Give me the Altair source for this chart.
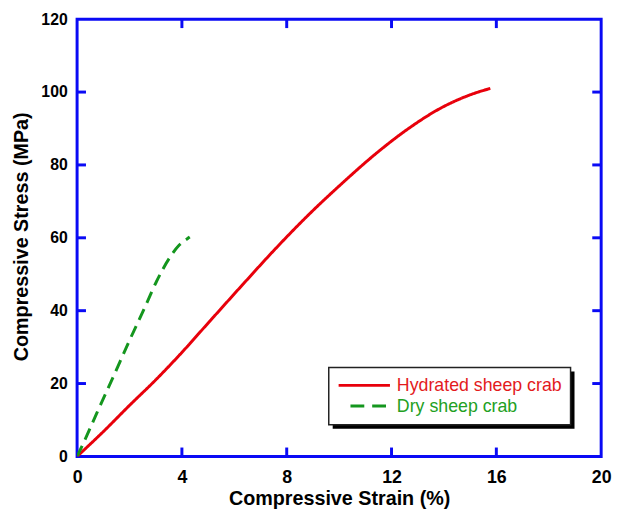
import altair as alt
import pandas as pd

# ---- data ----
series_names = ["Hydrated sheep crab", "Dry sheep crab"]
series_colors = ["#e8000b", "#14961e"]
label_colors = ["#e31a1c", "#22a022"]

hyd_strain = [0, 1, 2, 3, 3.84, 5.1, 6.35, 7.61, 8.86, 10.12, 11.37, 12.63, 13.88, 15.14, 15.77]
hyd_stress = [0, 6.8, 14, 21, 27.3, 37.4, 47.4, 57.3, 66.5, 75.0, 82.9, 89.9, 95.6, 99.6, 101]

dry_strain = [0, 0.16, 0.76, 1.39, 1.96, 2.59, 3.03, 3.53, 3.9, 4.22, 4.3]
dry_stress = [0, 2.4, 12.0, 22.0, 31.2, 41.0, 48.0, 54.5, 58.0, 59.8, 60.2]

x_ticks = [0, 4, 8, 12, 16, 20]
y_ticks = [0, 20, 40, 60, 80, 100, 120]

W, H = 531, 443
FONT = "Liberation Sans"
BLUE = "#0a0af5"

rows = []
for s, st in zip(hyd_strain, hyd_stress):
    rows.append({"strain": s, "stress": st, "series": series_names[0]})
for s, st in zip(dry_strain, dry_stress):
    rows.append({"strain": s, "stress": st, "series": series_names[1]})
df = pd.DataFrame(rows)

xscale = alt.Scale(domain=[0, 20], nice=False)
yscale = alt.Scale(domain=[0, 120], nice=False)

x_axis = alt.Axis(values=x_ticks, domain=False, ticks=False, tickSize=0, grid=False,
                  labelFont=FONT, labelFontSize=18, labelFontWeight="bold", labelColor="black",
                  labelBaseline="alphabetic", labelPadding=26, labelFlush=False, labelOverlap=False,
                  title="Compressive Strain (%)", titleFont=FONT, titleFontSize=20,
                  titleFontWeight="bold", titleColor="black", titleX=265.5, titleY=49,
                  titleBaseline="alphabetic", titleAlign="center")
y_axis = alt.Axis(values=y_ticks, domain=False, ticks=False, tickSize=0, grid=False,
                  labelFont=FONT, labelFontSize=16, labelFontWeight="bold", labelColor="black",
                  labelPadding=10, labelFlush=False, labelOverlap=False,
                  title="Compressive Stress (MPa)", titleFont=FONT, titleFontSize=20,
                  titleFontWeight="bold", titleColor="black", titleX=-50, titleY=220,
                  titleAngle=270, titleBaseline="alphabetic", titleAlign="center")

lines = alt.Chart(df).mark_line(strokeWidth=3, interpolate="monotone", clip=True).encode(
    x=alt.X("strain:Q", scale=xscale, axis=x_axis),
    y=alt.Y("stress:Q", scale=yscale, axis=y_axis),
    color=alt.Color("series:N", scale=alt.Scale(domain=series_names, range=series_colors), legend=None),
    strokeDash=alt.StrokeDash("series:N", scale=alt.Scale(domain=series_names, range=[[1, 0], [12, 7]]), legend=None),
    detail="series:N",
)

# inward ticks on all four sides
xt = pd.DataFrame({"v": [v for v in x_ticks if 0 < v < 20]})
yt = pd.DataFrame({"v": [v for v in y_ticks if 0 < v < 120]})
tick_style = dict(color=BLUE, strokeWidth=3)
bt = alt.Chart(xt).mark_rule(**tick_style).encode(x=alt.X("v:Q", scale=xscale), y=alt.value(H), y2=alt.value(H - 9))
tt = alt.Chart(xt).mark_rule(**tick_style).encode(x=alt.X("v:Q", scale=xscale), y=alt.value(0), y2=alt.value(9))
lt = alt.Chart(yt).mark_rule(**tick_style).encode(y=alt.Y("v:Q", scale=yscale), x=alt.value(0), x2=alt.value(9))
rt = alt.Chart(yt).mark_rule(**tick_style).encode(y=alt.Y("v:Q", scale=yscale), x=alt.value(W), x2=alt.value(W - 9))

# legend box
leg = pd.DataFrame({"series": series_names, "lc": label_colors, "c": series_colors})
one = pd.DataFrame({"k": [0]})
bx0, bx1, by0, by1 = 255, 500, 353, 411
shadow = alt.Chart(one).mark_rect(color="black").encode(
    x=alt.value(bx0 + 4), x2=alt.value(bx1 + 4), y=alt.value(by0 + 4), y2=alt.value(by1 + 4))
box = alt.Chart(one).mark_rect(fill="white", stroke="#222222", strokeWidth=1.5).encode(
    x=alt.value(bx0), x2=alt.value(bx1), y=alt.value(by0), y2=alt.value(by1))
s1 = alt.Chart(leg.iloc[[0]]).mark_rule(color=series_colors[0], strokeWidth=3).encode(
    x=alt.value(265), x2=alt.value(317), y=alt.value(371))
s2 = alt.Chart(leg.iloc[[1]]).mark_rule(color=series_colors[1], strokeWidth=3, strokeDash=[14, 8]).encode(
    x=alt.value(277), x2=alt.value(316), y=alt.value(392))
t1 = alt.Chart(leg.iloc[[0]]).mark_text(align="left", baseline="alphabetic", font=FONT, fontSize=18,
                                         color=label_colors[0]).encode(
    x=alt.value(324), y=alt.value(377), text="series:N")
t2 = alt.Chart(leg.iloc[[1]]).mark_text(align="left", baseline="alphabetic", font=FONT, fontSize=18,
                                         color=label_colors[1]).encode(
    x=alt.value(324), y=alt.value(398), text="series:N")

chart = alt.layer(lines, bt, tt, lt, rt, shadow, box, s1, s2, t1, t2).properties(
    width=W, height=H,
    padding={"left": 70, "top": 8, "right": 12, "bottom": 55},
    autosize=alt.AutoSizeParams(type="none"),
).configure(background="white").configure_view(stroke=BLUE, strokeWidth=3)

chart.save("out.html", embed_options={"renderer": "svg", "actions": False})
